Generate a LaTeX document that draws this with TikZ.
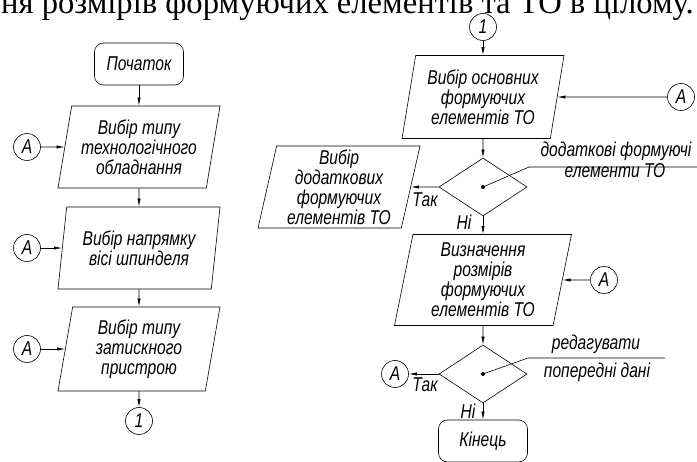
\documentclass[tikz,border=0pt]{standalone}
\usepackage{fontspec}
\setmainfont{Liberation Serif}
\newfontfamily\flowfont{Liberation Sans}[FakeStretch=0.78]
\usetikzlibrary{arrows.meta,shapes.geometric,positioning}
\newcommand\flowtext{\flowfont\itshape\fontsize{20}{20}\selectfont}
\tikzset{
    %Define standard arrow tip
    >={Latex[length=8pt,width=3.2pt]},
    % Define arrow style
    pil/.style={
           ->,
           line width=0.6pt,},
    % blocks of the chart
    term/.style={draw,line width=0.6pt,rounded corners=9pt,
           minimum width=89pt,minimum height=42pt,font=\flowtext},
    io/.style={draw,line width=0.6pt,trapezium,trapezium left angle=76,
           trapezium right angle=104,trapezium stretches body,
           minimum width=162pt,minimum height=82pt,inner sep=0pt,
           align=center,font=\flowtext},
    cond/.style={draw,line width=0.6pt,diamond,minimum width=88pt,
           minimum height=58pt,inner sep=0pt},
    conn/.style={draw,line width=0.6pt,circle,minimum size=27pt,
           inner sep=0pt,font=\flowtext},
    lbl/.style={inner sep=0pt,font=\flowtext},
    lead/.style={line width=0.6pt}
}
\begin{document}
\begin{tikzpicture}[x=1pt,y=-1pt]
  \useasboundingbox (0,0) rectangle (697,462);
  \clip (0,0) rectangle (697,462);
  % text line cut off above the picture
  \node (top) at (694,14) [anchor=base east,inner sep=0pt,
        font=\fontsize{32.6}{34}\selectfont] {ня розмірів формуючих елементів та ТО в цілому.};
  % left column
  \node (start) at (139,64) [term] {Початок};
  \node (p1) at (139,147) [io] {Вибір типу\\технологічного\\обладнання};
  \node (p2) at (139,248) [io] {Вибір напрямку\\вісі шпинделя};
  \node (p3) at (139,349) [io,minimum height=84pt] {Вибір типу\\затискного\\пристрою};
  \node (c1) at (139,421) [conn] {1};
  \node (a1) at (27,147) [conn] {A};
  \node (a2) at (27,248) [conn] {A};
  \node (a3) at (27,349) [conn] {A};
  \draw [pil] (start) -- (p1);
  \draw [pil] (p1) -- (p2);
  \draw [pil] (p2) -- (p3);
  \draw [pil] (p3) -- (c1);
  \draw [pil] (a1) -- (p1);
  \draw [pil] (a2) -- (p2);
  \draw [pil] (a3) -- (p3);
  % right column
  \node (c2) at (483,27) [conn] {1};
  \node (r1) at (483,97) [io,minimum height=83pt] {Вибір основних\\формуючих\\елементів ТО};
  \node (a4) at (681,97) [conn] {A};
  \node (d1) at (483,187) [cond] {};
  \node (s1) at (339,187) [io] {Вибір\\додаткових\\формуючих\\елементів ТО};
  \node (r2) at (483,280) [io,minimum width=177pt,minimum height=91pt] {Визначення\\розмірів\\формуючих\\елементів ТО};
  \node (a5) at (604,280) [conn] {A};
  \node (d2) at (483,374) [cond] {};
  \node (a6) at (395,374) [conn] {A};
  \node (end) at (483,441) [term] {Кінець};
  \draw [pil] (c2) -- (r1);
  \draw [pil] (a4) -- (r1);
  \draw [pil] (r1) -- (d1);
  \draw [pil] (d1) -- (s1);
  \draw [pil] (d1) -- (r2);
  \draw [pil] (a5) -- (r2);
  \draw [pil] (r2) -- (d2);
  \draw [pil] (d2) -- (a6);
  \draw [pil] (d2) -- (end);
  \node (t1) at (425,200) [lbl] {Так};
  \node (n1) at (464,222) [lbl] {Ні};
  \node (t2) at (425,385) [lbl] {Так};
  \node (n2) at (468,411) [lbl] {Ні};
  % condition texts on leader lines
  \fill (d1.center) circle (2);
  \fill (d2.center) circle (2);
  \coordinate (k1) at (529,167);
  \coordinate (k1e) at (697,167);
  \coordinate (k2) at (528,358);
  \coordinate (k2e) at (665,358);
  \draw [lead] (d1.center) -- (k1) -- (k1e);
  \draw [lead] (d2.center) -- (k2) -- (k2e);
  \node (q1) at (616,157) [lbl,anchor=base] {додаткові формуючі};
  \node (q2) at (615,178) [lbl,anchor=base] {елементи ТО};
  \node (q3) at (596,350) [lbl,anchor=base] {редагувати};
  \node (q4) at (597,378) [lbl,anchor=base] {попередні дані};
\end{tikzpicture}
\end{document}
